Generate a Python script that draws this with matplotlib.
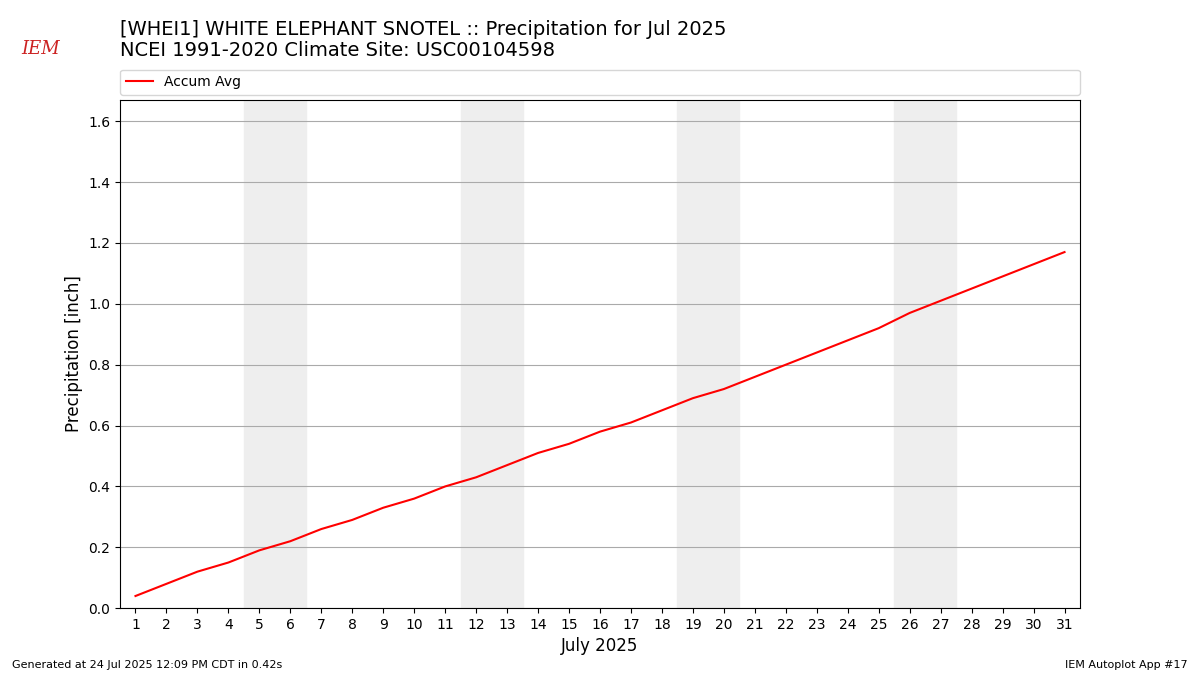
import matplotlib
matplotlib.use('Agg')
import matplotlib.pyplot as plt

days = list(range(1, 32))
accum_avg = [0.04, 0.08, 0.12, 0.15, 0.19, 0.22, 0.26, 0.29, 0.33, 0.36,
             0.40, 0.43, 0.47, 0.51, 0.54, 0.58, 0.61, 0.65, 0.69, 0.72,
             0.76, 0.80, 0.84, 0.88, 0.92, 0.97, 1.01, 1.05, 1.09, 1.13, 1.17]
weekends = [5, 12, 19, 26]

fig = plt.figure(figsize=(12, 6.75), dpi=100)
ax = fig.add_axes([0.1, 0.099, 0.8, 0.753])

for d in weekends:
    ax.axvspan(d - 0.5, d + 1.5, color='#eeeeee', zorder=0)

line, = ax.plot(days, accum_avg, color='red', label='Accum Avg')
ax.set_xlim(0.5, 31.5)
ax.set_ylim(0, 1.67)
ax.set_xticks(days)
ax.set_yticks([0, 0.2, 0.4, 0.6, 0.8, 1.0, 1.2, 1.4, 1.6])
ax.yaxis.grid(True, color='#aaaaaa')
ax.set_axisbelow(True)
ax.set_xlabel('July 2025', fontsize=12)
ax.set_ylabel('Precipitation [inch]', fontsize=12)

ax.legend(handles=[line], loc='lower left', bbox_to_anchor=(0, 1.01, 1, 0.05),
          mode='expand', ncol=1, fontsize=10, borderaxespad=0)

fig.text(0.1, 0.971, '[WHEI1] WHITE ELEPHANT SNOTEL :: Precipitation for Jul 2025',
         fontsize=14, va='top')
fig.text(0.1, 0.939, 'NCEI 1991-2020 Climate Site: USC00104598',
         fontsize=14, va='top')
fig.text(0.018, 0.92, 'IEM', color='#cc2222', fontsize=13, style='italic',
         family='serif')
fig.text(0.01, 0.01, 'Generated at 24 Jul 2025 12:09 PM CDT in 0.42s', fontsize=8)
fig.text(0.99, 0.01, 'IEM Autoplot App #17', fontsize=8, ha='right')

fig.savefig('out.png', dpi=100)
